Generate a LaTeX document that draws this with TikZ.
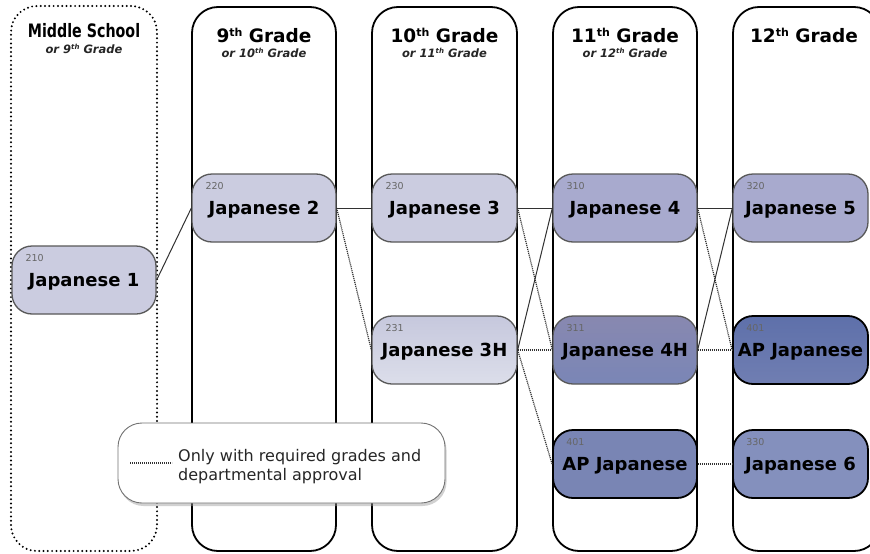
\documentclass[tikz,border=0pt]{standalone}
\usepackage{graphicx}
\usepackage{fontspec}
\setmainfont{DejaVu Sans}
\usetikzlibrary{shadows}
\definecolor{lightc}{RGB}{203,204,224}
\definecolor{hthreetop}{RGB}{198,200,221}
\definecolor{hthreebot}{RGB}{220,222,234}
\definecolor{midc}{RGB}{168,170,206}
\definecolor{hfourtop}{RGB}{136,136,176}
\definecolor{hfourbot}{RGB}{122,134,182}
\definecolor{aptop}{RGB}{94,112,170}
\definecolor{apbot}{RGB}{112,126,178}
\definecolor{apel}{RGB}{121,133,180}
\definecolor{sixc}{RGB}{132,144,189}
\definecolor{edgegray}{RGB}{88,88,88}
\definecolor{linkc}{RGB}{50,50,50}
\newcommand\titlesup[1]{\raisebox{5.3pt}{\fontsize{11}{11}\selectfont #1}}
\newcommand\smallsup[1]{\raisebox{3.4pt}{\fontsize{7}{7}\selectfont #1}}
\begin{document}
\begin{tikzpicture}[x=1pt,y=-1pt,
  colbox/.style={draw=black, line width=1.8pt, rounded corners=26pt, inner sep=0pt,
    minimum width=#1, minimum height=544pt},
  msbox/.style={draw=black, line width=2.2pt, dash pattern=on 0pt off 4.3pt, line cap=round,
    rounded corners=26pt, inner sep=0pt, minimum width=146pt, minimum height=545pt},
  coltitle/.style={font=\fontsize{18.5}{20}\selectfont\bfseries, text=black, inner sep=0pt},
  colsub/.style={font=\fontsize{11.5}{13}\selectfont\bfseries\itshape, text=black!85, inner sep=0pt},
  course/.style={draw=edgegray, line width=1.3pt, rounded corners=20pt, inner sep=0pt,
    minimum width=#1, minimum height=68pt, text height=13.1pt, text depth=0pt,
    font=\fontsize{18}{20}\selectfont\bfseries, text=black},
  strongcourse/.style={course=#1, draw=black, line width=1.8pt},
  num/.style={font=\fontsize{9.5}{10}\selectfont, text=black!60, inner sep=0pt, anchor=base west},
  link/.style={draw=linkc, line width=1pt},
  dotlink/.style={draw=linkc, line width=1.2pt, dash pattern=on 1.1pt off 0.9pt},
  legendbox/.style={draw=black!55, line width=0.9pt, fill=white, rounded corners=24pt,
    minimum width=327pt, minimum height=80pt, inner sep=0pt,
    drop shadow={shadow xshift=1.5pt, shadow yshift=-3pt, fill=black!40, opacity=0.45}},
  legendtext/.style={font=\fontsize{16}{19}\selectfont, text=black!85, align=left, inner sep=0pt}
]
\useasboundingbox (0,0) rectangle (870,554);
\begin{scope}
\clip (0,0) rectangle (870,554);
\fill[white] (0,0) rectangle (870,554);

% columns
\node[msbox] (cms) at (84,278.5) {};
\node[colbox=144pt] (c9) at (264,279) {};
\node[colbox=145pt] (c10) at (444.5,279) {};
\node[colbox=144pt] (c11) at (625,279) {};
\node[colbox=147pt] (c12) at (806.5,279) {};

% titles
\node[coltitle, anchor=base] (tms) at (84,37) {\scalebox{0.77}[1]{Middle School}};
\node[colsub, anchor=base] (sms) at (84,53) {or 9\smallsup{th} Grade};
\node[coltitle, anchor=base] (t9) at (264,42) {9\titlesup{th} Grade};
\node[colsub, anchor=base] (s9) at (264,57) {or 10\smallsup{th} Grade};
\node[coltitle, anchor=base] (t10) at (444.5,42) {10\titlesup{th} Grade};
\node[colsub, anchor=base] (s10) at (444.5,57) {or 11\smallsup{th} Grade};
\node[coltitle, anchor=base] (t11) at (625,42) {11\titlesup{th} Grade};
\node[colsub, anchor=base] (s11) at (625,57) {or 12\smallsup{th} Grade};
\node[coltitle, anchor=base] (t12) at (804,42) {12\titlesup{th} Grade};
\end{scope}

% courses
\node[course=144pt, fill=lightc] (J1) at (84,280) {Japanese 1};
\node[course=144pt, fill=lightc] (J2) at (264,208) {Japanese 2};
\node[course=145pt, fill=lightc] (J3) at (444.5,208) {Japanese 3};
\node[course=144pt, fill=midc] (J4) at (625,208) {Japanese 4};
\node[course=135pt, fill=midc] (J5) at (800.5,208) {Japanese 5};
\node[course=145pt, top color=hthreetop, bottom color=hthreebot] (J3H) at (444.5,350) {Japanese 3H};
\node[course=144pt, top color=hfourtop, bottom color=hfourbot] (J4H) at (625,350) {Japanese 4H};
\node[strongcourse=135pt, top color=aptop, bottom color=apbot] (AP12) at (800.5,350) {AP Japanese};
\node[strongcourse=144pt, fill=apel] (AP11) at (625,464) {AP Japanese};
\node[strongcourse=135pt, fill=sixc] (J6) at (800.5,464) {Japanese 6};

% course numbers
\node[num] (n210) at ([shift={(14,16.5)}]J1.north west) {210};
\node[num] (n220) at ([shift={(14,16.5)}]J2.north west) {220};
\node[num] (n230) at ([shift={(14,16.5)}]J3.north west) {230};
\node[num] (n310) at ([shift={(14,16.5)}]J4.north west) {310};
\node[num] (n320) at ([shift={(14,16.5)}]J5.north west) {320};
\node[num] (n231) at ([shift={(14,16.5)}]J3H.north west) {231};
\node[num] (n311) at ([shift={(14,16.5)}]J4H.north west) {311};
\node[num] (n401b) at ([shift={(14,16.5)}]AP12.north west) {401};
\node[num] (n401a) at ([shift={(14,16.5)}]AP11.north west) {401};
\node[num] (n330) at ([shift={(14,16.5)}]J6.north west) {330};

% connectors
\draw[link] (J1.east) -- (J2.west);
\draw[link] (J2.east) -- (J3.west);
\draw[dotlink] (J2.east) -- (J3H.west);
\draw[link] (J3.east) -- (J4.west);
\draw[dotlink] (J3.east) -- (J4H.west);
\draw[link] (J3H.east) -- (J4.west);
\draw[dotlink] (J3H.east) -- (J4H.west);
\draw[dotlink] (J3H.east) -- (AP11.west);
\draw[link] (J4.east) -- (J5.west);
\draw[dotlink] (J4.east) -- (AP12.west);
\draw[link] (J4H.east) -- (J5.west);
\draw[dotlink] (J4H.east) -- (AP12.west);
\draw[dotlink] (AP11.east) -- (J6.west);

% legend
\node[legendbox] (legend) at (281.5,463) {};
\coordinate (lega) at (130,463);
\coordinate (legb) at (172,463);
\draw[dotlink] (lega) -- (legb);
\node[legendtext, anchor=west] (legtext) at (178,467) {Only with required grades and\\departmental approval};
\end{tikzpicture}
\end{document}
